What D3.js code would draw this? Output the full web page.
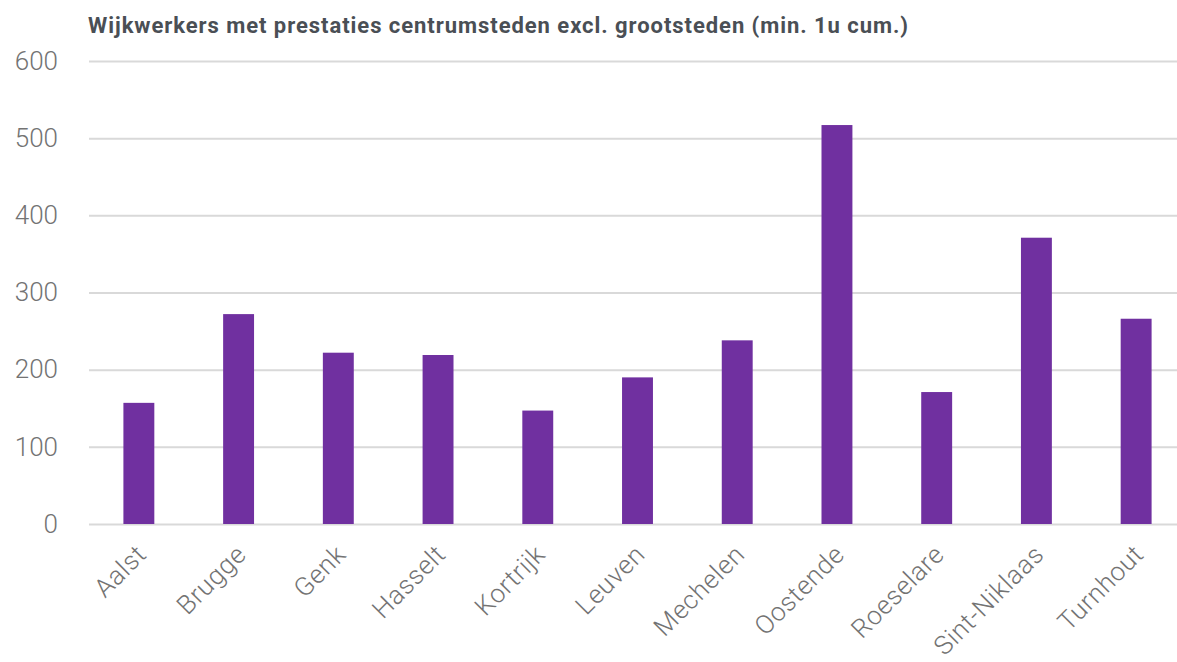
<!DOCTYPE html>
<html>
<head>
<meta charset="utf-8">
<script src="https://cdn.jsdelivr.net/npm/d3@7"></script>
<style>
  body { margin: 0; background: #fff; }
  svg { display: block; font-family: Roboto, "Open Sans", sans-serif; }
</style>
</head>
<body>
<svg id="chart" width="1177" height="662"></svg>
<script>
var width = 1177;
var height = 662;

var cities = ["Aalst", "Brugge", "Genk", "Hasselt", "Kortrijk", "Leuven",
    "Mechelen", "Oostende", "Roeselare", "Sint-Niklaas", "Turnhout"];
var workers = [157, 272, 222, 219, 147, 190, 238, 517, 171, 371, 266];
var yTicks = [0, 100, 200, 300, 400, 500, 600];

var plotLeft = 89, plotRight = 1186, plotTop = 61, plotBottom = 524;

var svg = d3.select("#chart");

var x = d3.scaleBand()
    .domain(cities)
    .range([plotLeft, plotRight])
    .paddingInner(0.69)
    .paddingOuter(0.345);

var y = d3.scaleLinear()
    .domain([0, 600])
    .range([plotBottom, plotTop]);

// title
svg.append("text")
    .attr("x", 88)
    .attr("y", 33)
    .attr("textLength", 820)
    .attr("lengthAdjust", "spacing")
    .style("font-size", "22px")
    .style("font-weight", "700")
    .style("fill", "#4a4f55")
    .text("Wijkwerkers met prestaties centrumsteden excl. grootsteden (min. 1u cum.)");

// gridlines + y labels
var yAxis = svg.append("g")
    .attr("transform", "translate(" + plotLeft + ",0)")
    .call(d3.axisLeft(y).tickValues(yTicks).tickSize(-(plotRight - plotLeft)).tickPadding(31));
yAxis.select(".domain").remove();
yAxis.selectAll(".tick line")
    .attr("stroke", "#d9d9d9")
    .attr("stroke-width", 2);
yAxis.selectAll(".tick text")
    .style("font-size", "26px")
    .style("font-weight", "300")
    .style("fill", "#737373")
    .style("font-family", "Roboto, sans-serif");

// bars
svg.append("g")
    .selectAll("rect")
    .data(cities)
    .join("rect")
    .attr("x", function (d) { return x(d); })
    .attr("y", function (d, i) { return y(workers[i]); })
    .attr("width", x.bandwidth())
    .attr("height", function (d, i) { return y(0) - y(workers[i]); })
    .attr("fill", "#7030a0");

// x labels, rotated
var xAxis = svg.append("g")
    .attr("transform", "translate(0," + plotBottom + ")")
    .call(d3.axisBottom(x).tickSize(0).tickPadding(0));
xAxis.select(".domain").remove();
xAxis.selectAll(".tick text")
    .attr("text-anchor", "end")
    .attr("dy", 0)
    .attr("transform", "translate(9,32) rotate(-45)")
    .style("font-size", "26px")
    .style("font-weight", "300")
    .style("letter-spacing", "0.6px")
    .style("fill", "#737373")
    .style("font-family", "Roboto, sans-serif");
</script>
</body>
</html>
